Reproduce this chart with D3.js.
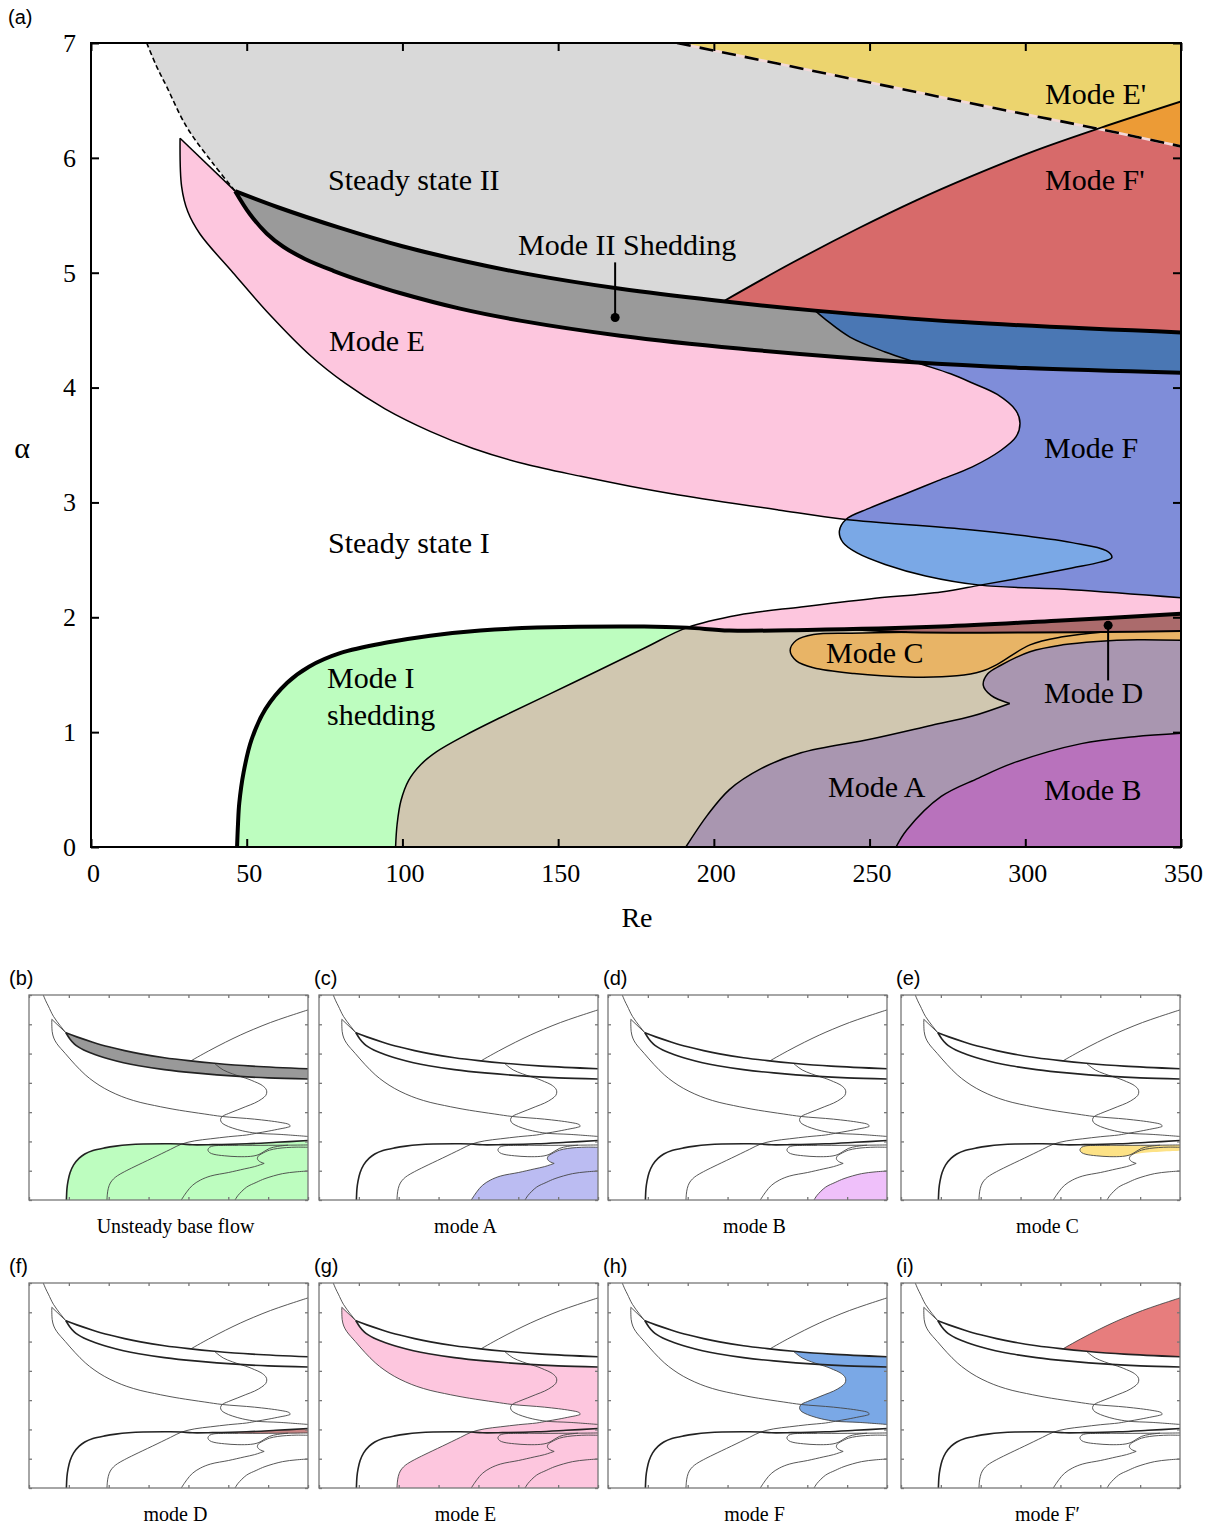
<!DOCTYPE html>
<html>
<head>
<meta charset="utf-8">
<script src="https://cdn.jsdelivr.net/npm/d3@7"></script>
<style>
  body { margin: 0; background: #fff; }
  text { font-family: "Liberation Serif", "Times New Roman", serif; fill: #000; }
  .sans { font-family: "Liberation Sans", Arial, sans-serif; }
</style>
</head>
<body>
<svg id="fig" width="1220" height="1526"></svg>
<script>
// ---- axis ticks ----
const reTicks = [0, 50, 100, 150, 200, 250, 300, 350];
const alphaTicks = [0, 1, 2, 3, 4, 5, 6, 7];

// ---- boundary curves, [Re, alpha] ----
const ss2Dashed = [[17.9, 7.0], [21, 6.8], [24.3, 6.62], [30.7, 6.27], [39.2, 5.95], [46.3, 5.71]];
const ss2Upper = [[46.3, 5.71], [60, 5.57], [80, 5.39], [100, 5.23], [120, 5.10], [140, 4.99], [170, 4.86],
                  [200, 4.76], [232.5, 4.67], [280, 4.57], [350, 4.48]];
const ss2Lower = [[46.3, 5.71], [51.05, 5.509], [56.4, 5.342], [61.75, 5.226], [68.7, 5.12], [77.8, 5.017],
                  [88, 4.918], [99.2, 4.823], [118.5, 4.687], [137.8, 4.583], [169.9, 4.452], [208, 4.34],
                  [264, 4.22], [300, 4.17], [350, 4.13]];
const ePrimeLine = [[188.2, 7.0], [220, 6.823], [258, 6.612], [290, 6.434], [324, 6.25], [350, 6.10]];
const fPrimeLine = [[203, 4.75], [225, 5.084], [246.6, 5.389], [265, 5.63], [282, 5.832], [303, 6.061],
                    [324, 6.26], [350, 6.491]];
const eTip = [[28.6, 6.17], [46.3, 5.71]];
const eCurve = [[97.8, 0], [98.3, 0.2], [99.5, 0.4], [102, 0.58], [106, 0.72], [111, 0.83], [120, 0.97],
                [131.7, 1.13], [154.8, 1.43], [177.6, 1.73], [191.4, 1.91], [208, 2.02], [228, 2.09],
                [250, 2.16], [273, 2.22], [285.5, 2.28], [300, 2.35], [315, 2.43], [324, 2.48], [327.8, 2.52],
                [326, 2.58], [315, 2.65], [283, 2.76], [242.4, 2.852], [220.6, 2.935], [188.8, 3.065],
                [173.1, 3.141], [157.3, 3.227], [139.4, 3.334], [122.7, 3.47], [108.9, 3.619], [94.4, 3.815],
                [81.6, 4.038], [70.6, 4.275], [57.5, 4.632], [45.6, 5.0], [35, 5.337], [31.1, 5.53],
                [29.1, 5.75], [28.6, 6.17]];
const fCurve = [[232.5, 4.67], [236, 4.59], [243.7, 4.44], [255, 4.31], [266, 4.21], [276, 4.12], [283, 4.04],
                [291, 3.94], [297, 3.80], [298.3, 3.69], [297, 3.57], [292, 3.45], [283, 3.31], [272, 3.19],
                [262, 3.08], [250, 2.95], [242.4, 2.852], [240.3, 2.75], [241.5, 2.65], [246, 2.56], [255, 2.46],
                [268, 2.36], [285.5, 2.28], [315, 2.24], [350, 2.17]];
const modeICurve = [[46.9, 0], [47.2, 0.2], [47.6, 0.38], [49, 0.65], [51.5, 0.93], [56, 1.2], [63, 1.43],
                    [70, 1.57], [80.2, 1.69], [95, 1.78], [108.9, 1.84], [125, 1.885], [143.2, 1.91],
                    [177.6, 1.92], [191.4, 1.91], [205, 1.885], [230, 1.89], [273, 1.92], [310, 1.97], [350, 2.03]];
const modeALower = [[191, 0], [198, 0.28], [205, 0.5], [215, 0.68], [228, 0.82], [250.5, 0.94],
                    [270, 1.06], [283, 1.14], [295, 1.25]];
const modeAUpper = [[295, 1.25], [289, 1.32], [286.5, 1.41], [288, 1.51], [292, 1.58], [301.5, 1.70],
                    [312, 1.76], [323, 1.79], [336, 1.805], [350, 1.80]];
const modeBCurve = [[258.5, 0], [262, 0.15], [273, 0.44], [285, 0.6], [296, 0.73], [318, 0.9], [335, 0.96], [350, 0.99]];
const modeDLower = [[244, 1.895], [260, 1.872], [280, 1.866], [300, 1.867], [325, 1.872], [350, 1.88]];
const modeCOutline = [[262, 1.87], [244, 1.862], [232, 1.85], [226.5, 1.80], [224.5, 1.71], [226.5, 1.62],
                      [232, 1.56], [245, 1.51], [262, 1.48], [278, 1.49], [286, 1.53], [291, 1.59],
                      [301.5, 1.76], [312, 1.83], [325, 1.872]];
const modeCRegion = [[350, 1.88], [325, 1.872], [300, 1.867], [280, 1.866], [262, 1.87], [244, 1.862],
                     [232, 1.85], [226.5, 1.80], [224.5, 1.71], [226.5, 1.62], [232, 1.56], [245, 1.51],
                     [262, 1.48], [278, 1.49], [288, 1.54], [300, 1.6], [350, 1.68]];
// pointer dots
const pointerII = [[168.3, 4.61], [168.3, 5.09]];
const pointerD = [[326.6, 1.93], [326.6, 1.45]];

// ---- helpers ----
const svg = d3.select("#fig");
const defs = svg.append("defs");
const smooth = d3.line().curve(d3.curveCatmullRom.alpha(0.5));
const pts = (...p) => ({ lin: p });
const rev = a => a.slice().reverse();

// join smooth curve parts and straight corner parts into one closed path
function pathOf(parts, x, y) {
  let d = "";
  parts.forEach(part => {
    if (part.lin) {
      part.lin.forEach(p => { d += (d ? "L" : "M") + x(p[0]) + "," + y(p[1]); });
    } else {
      const s = smooth(part.map(p => [x(p[0]), y(p[1])]));
      d += d ? "L" + s.slice(1) : s;
    }
  });
  return d + "Z";
}

// regions built from the curves
const regions = {
  ss2: [ss2Dashed, ss2Upper, pts([350, 7.5], [17.9, 7.5])],
  ePrime: [ePrimeLine, pts([350, 7.5], [188.2, 7.5])],
  fPrime: [fPrimeLine, pts([350, 3.5], [203, 3.5])],
  band: [ss2Upper, rev(ss2Lower)],
  e: [eCurve, eTip, ss2Lower, pts([350, -0.5], [97.8, -0.5])],
  underUpper: [ss2Upper, pts([360, -1], [0, -1], [0, 5.71])],
  f: [fCurve, pts([360, 2.17], [360, 5], [232.5, 5])],
  modeI: [modeICurve, pts([360, 2.03], [360, -1], [46.9, -1])],
  modeA: [modeALower, modeAUpper, pts([360, 1.8], [360, -1], [191, -1])],
  modeB: [modeBCurve, pts([360, 0.99], [360, -1], [258.5, -1])],
  modeC: [modeCRegion],
  modeD: [modeDLower, pts([350, 2.4], [244, 2.4])]
};

function drawDiagram(x, y, id) {
  const x0 = x.range()[0], x1 = x.range()[1], y0 = y.range()[0], y1 = y.range()[1];
  defs.append("clipPath").attr("id", id + "-plot").append("rect")
    .attr("x", x0).attr("y", y1).attr("width", x1 - x0).attr("height", y0 - y1);
  const inner = svg.append("g").attr("clip-path", `url(#${id}-plot)`);
  const dOf = name => pathOf(regions[name], x, y);
  const clipOf = name => {
    const cid = id + "-" + name;
    if (defs.select("#" + cid).empty()) defs.append("clipPath").attr("id", cid).append("path").attr("d", dOf(name));
    return cid;
  };
  function fill(name, color, clips = []) {
    let parent = inner;
    clips.forEach(c => { parent = parent.append("g").attr("clip-path", `url(#${clipOf(c)})`); });
    parent.append("path").attr("d", dOf(name)).attr("fill", color);
  }
  function stroke(curve, width, color, dash) {
    inner.append("path")
      .attr("d", smooth(curve.map(p => [x(p[0]), y(p[1])])))
      .attr("fill", "none").attr("stroke", color).attr("stroke-width", width)
      .attr("stroke-linejoin", "round")
      .attr("stroke-dasharray", dash || null);
  }
  return { inner, fill, stroke };
}

function drawAxes(x, y, size, color, width, withLabels) {
  const style = g => {
    g.select(".domain").remove();
    g.selectAll(".tick line").attr("stroke", color).attr("stroke-width", width);
    g.attr("font-family", null).attr("font-size", null);
  };
  const fmt = withLabels ? d3.format("d") : () => "";
  const bottom = svg.append("g").attr("transform", `translate(0,${y.range()[0]})`)
    .call(d3.axisBottom(x).tickValues(reTicks).tickSize(-size).tickPadding(17).tickFormat(fmt)).call(style);
  svg.append("g").attr("transform", `translate(0,${y.range()[1]})`)
    .call(d3.axisTop(x).tickValues(reTicks).tickSize(-size).tickFormat("")).call(style);
  const left = svg.append("g").attr("transform", `translate(${x.range()[0]},0)`)
    .call(d3.axisLeft(y).tickValues(alphaTicks).tickSize(-size).tickPadding(15).tickFormat(fmt)).call(style);
  svg.append("g").attr("transform", `translate(${x.range()[1]},0)`)
    .call(d3.axisRight(y).tickValues(alphaTicks).tickSize(-size).tickFormat("")).call(style);
  svg.append("rect")
    .attr("x", x.range()[0]).attr("y", y.range()[1])
    .attr("width", x.range()[1] - x.range()[0]).attr("height", y.range()[0] - y.range()[1])
    .attr("fill", "none").attr("stroke", color).attr("stroke-width", width);
  if (withLabels) {
    bottom.selectAll(".tick text").attr("font-size", 26).attr("fill", "#000").attr("dx", 2);
    left.selectAll(".tick text").attr("font-size", 26).attr("fill", "#000");
  }
}

// ================= MAIN CHART (a) =================
const x = d3.scaleLinear().domain([0, 350]).range([91, 1181]);
const y = d3.scaleLinear().domain([0, 7]).range([847, 43]);
const main = drawDiagram(x, y, "main");

main.fill("ss2", "#d9d9d9");
main.fill("fPrime", "#d76a6a", ["ss2"]);
main.fill("ePrime", "#ecd46e");
main.fill("fPrime", "#ec9b36", ["ePrime"]);
main.fill("e", "#fdc6de");
main.fill("band", "#9a9a9a");
main.fill("f", "#7aa8e6", ["underUpper"]);
main.fill("f", "#7f8dd9", ["underUpper", "e"]);
main.fill("f", "#4a77b4", ["band"]);
main.fill("modeI", "#bdfdbf");
main.fill("e", "#d0c7b0", ["modeI"]);
main.fill("modeC", "#e8b466");
main.fill("modeD", "#ab6b6c", ["modeI"]);
main.fill("modeA", "#a996b0");
main.fill("modeB", "#b872bc");

// thin boundaries
main.stroke(ss2Dashed, 1.6, "#000", "5,3");
main.stroke(ePrimeLine, 2.6, "#f3d9d9");
main.stroke(ePrimeLine, 2.6, "#000", "14,9");
main.stroke(fPrimeLine, 1.8, "#000");
main.stroke(eTip, 1.5, "#000");
main.stroke(eCurve, 1.5, "#000");
main.stroke(fCurve, 1.5, "#000");
main.stroke(modeALower, 1.5, "#000");
main.stroke(modeAUpper, 1.5, "#000");
main.stroke(modeBCurve, 1.5, "#000");
main.stroke(modeCOutline, 1.5, "#000");
main.stroke(modeDLower, 2, "#000");
// thick boundaries
main.stroke(ss2Upper, 4, "#000");
main.stroke(ss2Lower, 4, "#000");
main.stroke(modeICurve, 4, "#000");

drawAxes(x, y, 8, "#000", 2, true);

// pointers
[pointerII, pointerD].forEach(p => {
  svg.append("line")
    .attr("x1", x(p[0][0])).attr("y1", y(p[0][1]))
    .attr("x2", x(p[1][0])).attr("y2", y(p[1][1]))
    .attr("stroke", "#000").attr("stroke-width", 2);
  svg.append("circle").attr("cx", x(p[0][0])).attr("cy", y(p[0][1])).attr("r", 4.5).attr("fill", "#000");
});

// region labels
const mainLabels = [
  ["Steady state II", 328, 179], ["Mode II Shedding", 518, 244], ["Mode E", 329, 340],
  ["Mode E'", 1045, 93], ["Mode F'", 1045, 179], ["Mode F", 1044, 447],
  ["Steady state I", 328, 542], ["Mode C", 826, 652], ["Mode I", 327, 677],
  ["shedding", 327, 714], ["Mode D", 1044, 692], ["Mode A", 828, 786], ["Mode B", 1044, 789]
];
svg.selectAll("text.region").data(mainLabels).enter().append("text")
  .attr("class", "region")
  .attr("x", d => d[1]).attr("y", d => d[2])
  .attr("dominant-baseline", "central")
  .attr("font-size", 30)
  .text(d => d[0]);

svg.append("text").attr("x", 22).attr("y", 447).attr("text-anchor", "middle")
  .attr("dominant-baseline", "central").attr("font-size", 30).text("α");
svg.append("text").attr("x", 637).attr("y", 917).attr("text-anchor", "middle")
  .attr("dominant-baseline", "central").attr("font-size", 28).text("Re");
svg.append("text").attr("class", "sans").attr("x", 8).attr("y", 17)
  .attr("dominant-baseline", "central").attr("font-size", 20).text("(a)");

// ================= SMALL PANELS (b)-(i) =================
const panelTags = ["(b)", "(c)", "(d)", "(e)", "(f)", "(g)", "(h)", "(i)"];
const panelTitles = ["Unsteady base flow", "mode A", "mode B", "mode C", "mode D", "mode E", "mode F", "mode F\u2032"];
const panelFills = [
  [["band", "#999999"], ["modeI", "#bdfdbf"]],
  [["modeA", "#bbbcf2"]],
  [["modeB", "#efc0fa"]],
  [["modeC", "#fde286"]],
  [["modeD", "#c98585", ["modeI"]]],
  [["e", "#fdc6de"]],
  [["f", "#7aa8e6", ["underUpper"]]],
  [["fPrime", "#e77d7d", ["ss2"]]]
];
const panelLeft = [29, 319, 608, 901];
const panelTop = [995, 1283];
const pw = 279, ph = 205;

panelTags.forEach((tag, i) => {
  const col = i % 4;
  const left = panelLeft[col], top = panelTop[Math.floor(i / 4)];
  const px = d3.scaleLinear().domain([0, 350]).range([left, left + pw]);
  const py = d3.scaleLinear().domain([0, 7]).range([top + ph, top]);
  const p = drawDiagram(px, py, "p" + i);
  panelFills[i].forEach(f => p.fill(f[0], f[1], f[2] || []));

  [ss2Dashed, fPrimeLine, eTip, eCurve, fCurve, modeALower, modeAUpper, modeBCurve, modeCOutline, modeDLower]
    .forEach(c => p.stroke(c, 0.9, "#444"));
  [ss2Upper, ss2Lower, modeICurve].forEach(c => p.stroke(c, 1.6, "#222"));

  drawAxes(px, py, 3, "#777", 1.3, false);

  svg.append("text").attr("class", "sans").attr("x", col === 0 ? left - 20 : left - 5).attr("y", top - 17)
    .attr("dominant-baseline", "central").attr("font-size", 20).text(tag);
  svg.append("text").attr("x", left + pw / 2 + 7).attr("y", top + ph + 26)
    .attr("text-anchor", "middle").attr("dominant-baseline", "central").attr("font-size", 20)
    .text(panelTitles[i]);
});
</script>
</body>
</html>
